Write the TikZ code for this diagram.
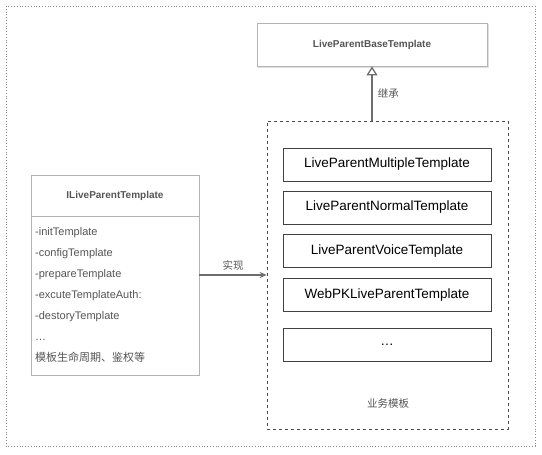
\documentclass[tikz,border=0pt]{standalone}
\usepackage{fontspec}
\setmainfont{Liberation Sans}
\newfontfamily\cjk{Noto Sans CJK SC}
\usetikzlibrary{arrows.meta,positioning}
\definecolor{framegray}{HTML}{8A8A8A}
\definecolor{linegray}{HTML}{6E6E6E}
\definecolor{boxgray}{HTML}{B4B4B4}
\definecolor{textgray}{HTML}{555555}

\begin{document}
\begin{tikzpicture}[x=1pt,y=-1pt,
    basebox/.style={draw=boxgray,line width=0.8pt,minimum width=230pt,minimum height=43pt,
      text=textgray,font=\bfseries\fontsize{10}{12}\selectfont},
    groupbox/.style={draw=black!70,dashed,line width=0.8pt,minimum width=241pt,minimum height=308pt},
    tmplbox/.style={draw=black!75,line width=0.9pt,minimum width=208pt,minimum height=33pt,
      font=\fontsize{13.5}{15}\selectfont},
    ifacebox/.style={draw=boxgray,line width=0.8pt,minimum width=168pt,minimum height=200pt},
    ifacehead/.style={draw=boxgray,line width=0.8pt,minimum width=168pt,minimum height=41pt,
      text=textgray,font=\bfseries\fontsize{10}{12}\selectfont},
    item/.style={anchor=base west,inner sep=0pt,text=textgray,font=\fontsize{11}{13}\selectfont},
    tag/.style={text=textgray,font=\cjk\fontsize{10.5}{12}\selectfont}]
  \useasboundingbox (0,0) rectangle (542,455);
  \draw[dotted,framegray,line width=0.8pt] (6,6) rectangle (535,446);

  % parent class
  \fill[black!12] (258,24) rectangle (489,68);
  \node[basebox,fill=white] (base) at (372,44.5) {LiveParentBaseTemplate};

  % business templates
  \node[groupbox] (grp) at (387.5,275) {};
  \foreach \y/\name/\txt in {164.5/multi/LiveParentMultipleTemplate,
                             207.5/normal/LiveParentNormalTemplate,
                             251/voice/LiveParentVoiceTemplate,
                             295/webpk/WebPKLiveParentTemplate,
                             344.5/more/\dots}
    \node[tmplbox] (\name) at (387,\y) {\txt};
  \node[tag] (grplabel) at (388,404) {业务模板};

  % interface
  \node[ifacebox] (iface) at (115,275) {};
  \node[ifacehead,below=0pt of iface.north] (ihead) {ILiveParentTemplate};
  \foreach \t [count=\i] in {-initTemplate,-configTemplate,-prepareTemplate,
                             -excuteTemplateAuth:,-destoryTemplate,\dots}
    \node[item] (m\i) at (35,214+21*\i) {\t};
  \node[item,font=\cjk\fontsize{11}{13}\selectfont] (m7) at (35,361) {模板生命周期、鉴权等};

  % connectors
  \draw[linegray,line width=1.3pt,-{Triangle[open,length=9pt,width=11pt]}]
    (base.south |- grp.north) -- (base.south)
    node[tag,midway,right=2pt] (inherit) {继承};
  \draw[linegray,line width=1.4pt,-{Stealth[length=7pt,width=6pt]}]
    (iface.east) -- (grp.west)
    node[tag,midway,above=1pt] (impl) {实现};
\end{tikzpicture}
\end{document}
